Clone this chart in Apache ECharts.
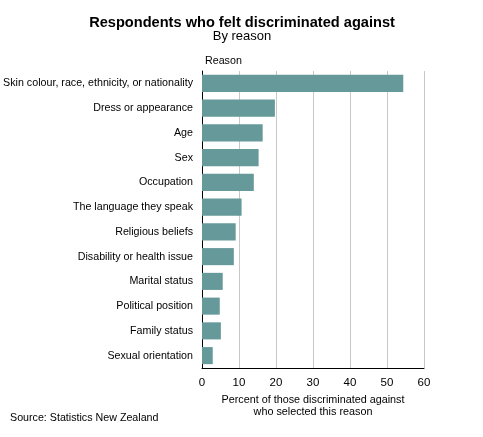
<!DOCTYPE html>
<html>
<head>
<meta charset="utf-8">
<script src="https://cdn.jsdelivr.net/npm/echarts@6/dist/echarts.min.js"></script>
<style>
  html, body { margin: 0; padding: 0; background: #fff; }
  #chart { width: 483px; height: 437px; }
</style>
</head>
<body>
<div id="chart"></div>
<script>
// 理由（上から順）
const reasons = [
  'Skin colour, race, ethnicity, or nationality',
  'Dress or appearance',
  'Age',
  'Sex',
  'Occupation',
  'The language they speak',
  'Religious beliefs',
  'Disability or health issue',
  'Marital status',
  'Political position',
  'Family status',
  'Sexual orientation'
];

// 割合（％）
const percents = [54.4, 19.7, 16.4, 15.3, 14.0, 10.7, 9.1, 8.6, 5.6, 4.8, 5.1, 2.9];

// X軸の目盛り
const xTicks = [0, 10, 20, 30, 40, 50, 60];

const font = '"Liberation Sans", Arial, sans-serif';

const chart = echarts.init(document.getElementById('chart'));

chart.setOption({
  animation: false,
  textStyle: { fontFamily: font },

  title: {
    text: 'Respondents who felt discriminated against',
    subtext: 'By reason',
    left: 237,
    textAlign: 'center',
    top: 10,
    itemGap: 0,
    textStyle: { fontFamily: font, fontWeight: 'bold', fontSize: 14.6, color: '#000' },
    subtextStyle: { fontFamily: font, fontSize: 13, color: '#000' }
  },

  // ラベルに合わせてグリッドを動かさない
  grid: { top: 71, left: 202, right: 59, bottom: 69, outerBoundsMode: 'none', containLabel: false },

  xAxis: {
    type: 'value',
    min: xTicks[0],
    max: xTicks[xTicks.length - 1],
    interval: 10,
    axisLine: { show: true, lineStyle: { color: '#000', width: 1 } },
    axisTick: { show: false },
    axisLabel: { color: '#000', fontSize: 11.5, margin: 9, fontFamily: font },
    splitLine: { lineStyle: { color: '#c8c8c8', width: 1 } },
    name: 'Percent of those discriminated against\nwho selected this reason',
    nameLocation: 'middle',
    nameGap: 22,
    nameTextStyle: { color: '#000', fontSize: 10.8, lineHeight: 12, fontFamily: font, verticalAlign: 'top' }
  },

  yAxis: {
    type: 'category',
    data: reasons,
    inverse: true,
    axisLine: { show: true, lineStyle: { color: '#000', width: 1 } },
    axisTick: { show: false },
    axisLabel: { color: '#000', fontSize: 10.7, margin: 9, fontFamily: font }
  },

  series: [{
    type: 'bar',
    data: percents,
    barWidth: '69%',
    itemStyle: { color: '#669999' }
  }],

  graphic: [
    {
      type: 'text',
      left: 205,
      top: 56,
      style: { text: 'Reason', fill: '#000', fontSize: 10.7, fontFamily: font }
    },
    {
      type: 'text',
      left: 10,
      top: 413,
      style: { text: 'Source: Statistics New Zealand', fill: '#000', fontSize: 10.7, fontFamily: font }
    }
  ]
});
</script>
</body>
</html>
